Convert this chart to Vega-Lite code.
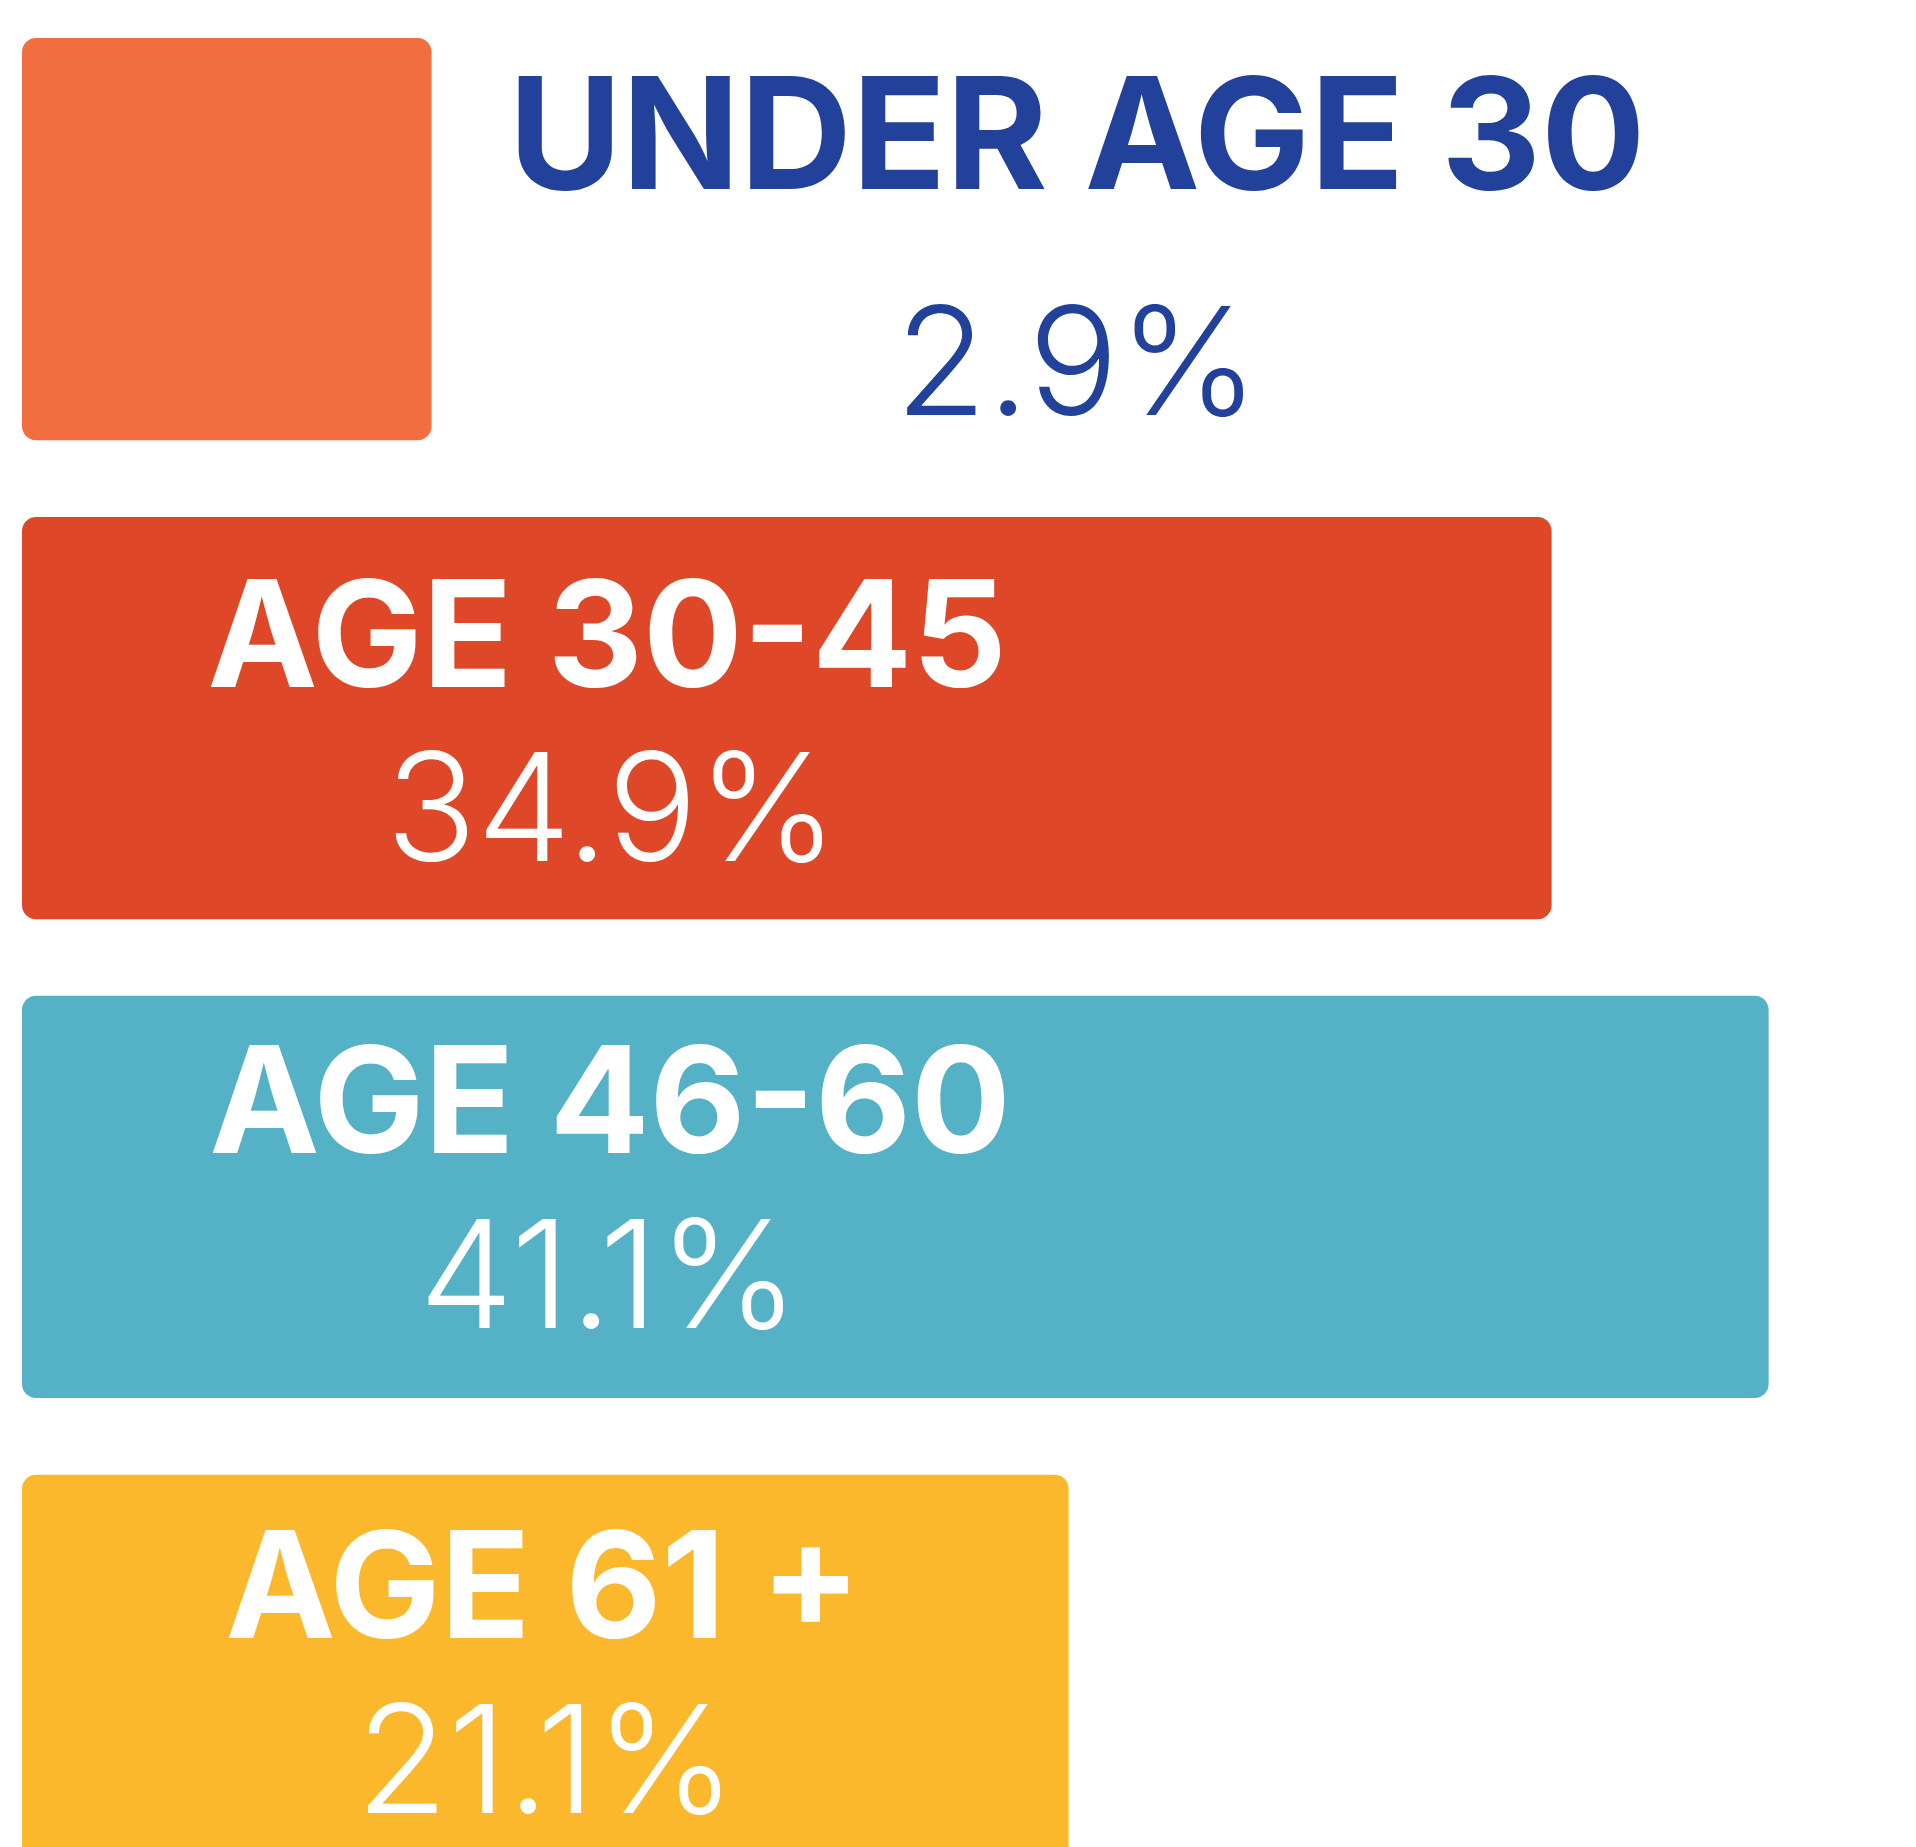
{
  "$schema": "https://vega.github.io/schema/vega-lite/v6.json",
  "width": 1894,
  "height": 1839,
  "padding": {"left": 22, "top": 38, "right": 0, "bottom": 0},
  "autosize": {"type": "none"},
  "background": "white",
  "config": {"view": {"stroke": null}},
  "data": {"values": [
    {"group": "UNDER AGE 30", "pct": 2.9, "label": "2.9%"},
    {"group": "AGE 30-45", "pct": 34.9, "label": "34.9%"},
    {"group": "AGE 46-60", "pct": 41.1, "label": "41.1%"},
    {"group": "AGE 61 +", "pct": 21.1, "label": "21.1%"}
  ]},
  "encoding": {
    "y": {"field": "group", "type": "nominal", "sort": null, "axis": null, "scale": {"paddingInner": 0.16, "paddingOuter": 0}}
  },
  "layer": [
    {
      "mark": {"type": "bar", "cornerRadius": 14},
      "encoding": {
        "x": {"field": "pct", "type": "quantitative", "axis": null, "scale": {"domain": [-8.8, 45.31], "zero": false, "nice": false}},
        "x2": {"datum": -8.8},
        "color": {"field": "group", "type": "nominal", "legend": null, "sort": null,
          "scale": {"domain": ["UNDER AGE 30", "AGE 30-45", "AGE 46-60", "AGE 61 +"], "range": ["#F26E40", "#DE4828", "#55B2C6", "#FBB82C"]}}
      }
    },
    {
      "transform": [{"filter": "datum.group == 'UNDER AGE 30'"}],
      "mark": {"type": "text", "font": "Inter", "fontWeight": 700, "fontSize": 155, "letterSpacing": -3, "color": "#22419A", "align": "center", "baseline": "alphabetic", "dx": 1055, "dy": -50},
      "encoding": {"x": {"datum": -8.8}, "text": {"field": "group"}}
    },
    {
      "transform": [{"filter": "datum.group == 'UNDER AGE 30'"}],
      "mark": {"type": "text", "font": "Inter", "fontWeight": 300, "fontSize": 150, "color": "#22419A", "align": "center", "baseline": "alphabetic", "dx": 1055, "dy": 176},
      "encoding": {"x": {"datum": -8.8}, "text": {"field": "label"}}
    },
    {
      "transform": [{"filter": "datum.group == 'AGE 30-45'"}],
      "mark": {"type": "text", "font": "Inter", "fontWeight": 700, "fontSize": 148, "letterSpacing": -2, "color": "white", "align": "center", "baseline": "alphabetic", "dx": 585, "dy": -31},
      "encoding": {"x": {"datum": -8.8}, "text": {"field": "group"}}
    },
    {
      "transform": [{"filter": "datum.group == 'AGE 30-45'"}],
      "mark": {"type": "text", "font": "Inter", "fontWeight": 300, "fontSize": 150, "color": "white", "align": "center", "baseline": "alphabetic", "dx": 590, "dy": 143},
      "encoding": {"x": {"datum": -8.8}, "text": {"field": "label"}}
    },
    {
      "transform": [{"filter": "datum.group == 'AGE 46-60'"}],
      "mark": {"type": "text", "font": "Inter", "fontWeight": 700, "fontSize": 148, "letterSpacing": -2, "color": "white", "align": "center", "baseline": "alphabetic", "dx": 588, "dy": -44},
      "encoding": {"x": {"datum": -8.8}, "text": {"field": "group"}}
    },
    {
      "transform": [{"filter": "datum.group == 'AGE 46-60'"}],
      "mark": {"type": "text", "font": "Inter", "fontWeight": 300, "fontSize": 150, "color": "white", "align": "center", "baseline": "alphabetic", "dx": 587, "dy": 131},
      "encoding": {"x": {"datum": -8.8}, "text": {"field": "label"}}
    },
    {
      "transform": [{"filter": "datum.group == 'AGE 61 +'"}],
      "mark": {"type": "text", "font": "Inter", "fontWeight": 700, "fontSize": 148, "letterSpacing": -2, "color": "white", "align": "center", "baseline": "alphabetic", "dx": 521, "dy": -38},
      "encoding": {"x": {"datum": -8.8}, "text": {"field": "group"}}
    },
    {
      "transform": [{"filter": "datum.group == 'AGE 61 +'"}],
      "mark": {"type": "text", "font": "Inter", "fontWeight": 300, "fontSize": 150, "color": "white", "align": "center", "baseline": "alphabetic", "dx": 524, "dy": 137},
      "encoding": {"x": {"datum": -8.8}, "text": {"field": "label"}}
    }
  ]
}
